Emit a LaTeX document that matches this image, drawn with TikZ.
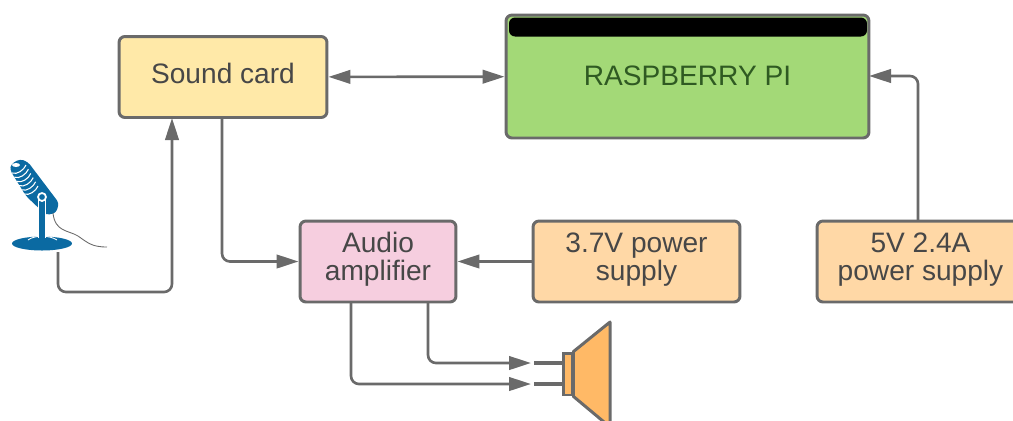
\documentclass[tikz,border=0pt]{standalone}
\usepackage{fontspec}
\setmainfont{Liberation Sans}
\usetikzlibrary{arrows.meta, positioning, shapes.geometric}

\definecolor{linegray}{HTML}{6A6A6A}
\definecolor{textgray}{HTML}{474747}
\definecolor{micblue}{HTML}{0B6AA2}
\definecolor{soundfill}{HTML}{FFE9A8}
\definecolor{pifill}{HTML}{A3D977}
\definecolor{pitext}{HTML}{2F5A22}
\definecolor{ampfill}{HTML}{F6CEDF}
\definecolor{powerfill}{HTML}{FFD8A6}
\definecolor{conefill}{HTML}{FFB966}
\newcommand{\lift}{\rule[-5.7pt]{0pt}{0pt}}
\tikzset{
   block/.style={draw=linegray,line width=1.7pt,rounded corners=0.12cm,align=center,text=textgray,
                 font=\fontsize{16}{16}\selectfont,minimum height=1.62cm,inner sep=0pt},
   wire/.style={draw=linegray,line width=1.5pt,rounded corners=0.16cm},
}

\begin{document}
\begin{tikzpicture}[x=0.02cm,y=-0.02cm,>={Triangle[length=0.44cm,width=0.27cm]}]
   \clip (0,0) rectangle (1013,420);

   % Nodes
      \node[block,fill=soundfill,minimum width=4.16cm]                                  (sound) at (223,77)    {\raisebox{4pt}{Sound card}};
      \node[block,fill=pifill,minimum width=7.26cm,minimum height=2.46cm,text=pitext]   (pi)    at (687.5,76.5) {\raisebox{1pt}{RASPBERRY PI}};
      \node[fill=black,rounded corners=0.12cm,minimum width=7.16cm,minimum height=0.38cm,inner sep=0pt] (pitop) at (688,27) {};
      \node[block,fill=ampfill,minimum width=3.12cm]                                    (amp)   at (378,261.5) {Audio\\amplifier\lift};
      \node[block,fill=powerfill,minimum width=4.14cm]                                  (psua)  at (636.5,261.5) {3.7V power\\supply\lift};
      \node[block,fill=powerfill,minimum width=4.14cm]                                  (psub)  at (920.5,261.5) {5V 2.4A\\power supply\lift};

   % Speaker
      \node[draw=linegray,line width=1.7pt,fill=conefill,minimum width=0.18cm,minimum height=0.84cm,inner sep=0pt] (coil) at (567.5,374) {};
      \draw[draw=linegray,line width=1.7pt,line join=round,fill=conefill] (coil.north east) -- (610,322) -- (610,427) -- (coil.south east) -- cycle;

   % Microphone
      \fill[micblue,rounded corners=2pt] (10,170) -- (11,164) -- (20,159) -- (28,162) -- (59,203) -- (56,213) -- (46,215) -- (26,196) -- cycle;
      \foreach \i in {0,1,2,3,4,5}
         \draw[white,line width=0.6pt] (12+2.4*\i,173+4.2*\i) .. controls (17+2.4*\i,175+4.2*\i) and (24+2.4*\i,170+4.2*\i) .. (26+2.4*\i,165+4.2*\i);
      \fill[white] (16,165) ellipse (4 and 2);
      \node[ellipse,fill=micblue,minimum width=1.2cm,minimum height=0.28cm,inner sep=0pt] (mic) at (42,243.5) {};
      \draw[white,line width=0.5pt] (28,240) .. controls (34,235) and (50,235) .. (57,240);
      \draw[white,line width=5pt] (42,199) -- (42,238);
      \draw[micblue,line width=3.6pt] (42,197) -- (42,240);
      \draw[white,line width=1pt,fill=micblue] (42,197) circle (4);
      \draw[linegray,line width=0.5pt] (53,213) .. controls (55,232) and (68,230) .. (78,236)
                                       .. controls (88,243) and (92,247) .. (107,247);

   % Free ends
      \coordinate (micout)  at (58,252);
      \coordinate (micturn) at (172,292);
      \coordinate (micin)   at (172,118);
      \coordinate (sndout)  at (222,118);
      \coordinate (ampa)    at (351,302);
      \coordinate (ampb)    at (428,302);
      \coordinate (spka)    at (531,384);
      \coordinate (spkb)    at (531,363);
      \coordinate (stuba)   at (534,384);
      \coordinate (stubb)   at (534,363);
      \coordinate (piin)    at (869,76);
      \coordinate (psubout) at (918,221);

   % Paths
      \draw[wire,<->] (sound) -- (pi);
      \draw[wire,->]  (micout) |- (micturn) -- (micin);
      \draw[wire,->]  (sndout) |- (amp.west);
      \draw[wire,->]  (psua) -- (amp);
      \draw[wire,->]  (psubout) |- (piin);
      \draw[wire,->]  (ampa) |- (spka);
      \draw[wire,->]  (ampb) |- (spkb);
      \draw[wire,line width=1.9pt] (stuba) -- (stuba -| coil.west);
      \draw[wire,line width=1.9pt] (stubb) -- (stubb -| coil.west);
\end{tikzpicture}
\end{document}
